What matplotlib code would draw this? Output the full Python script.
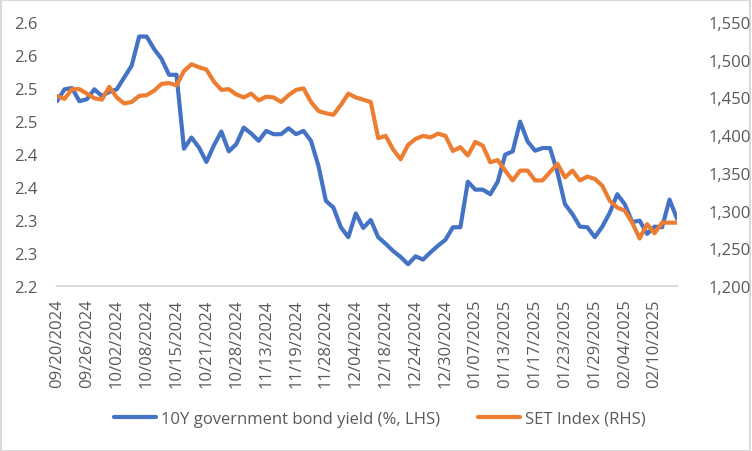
import matplotlib.pyplot as plt
from matplotlib.patches import Rectangle
from matplotlib.ticker import FixedLocator, FixedFormatter

# 10Y government bond yield (%), left axis
bond_yield = [
    2.480, 2.498, 2.500, 2.480, 2.483, 2.498, 2.488, 2.494, 2.498, 2.516,
    2.534, 2.578, 2.578, 2.559, 2.544, 2.520, 2.520, 2.408, 2.425, 2.410,
    2.388, 2.413, 2.434, 2.404, 2.415, 2.440, 2.431, 2.420, 2.435, 2.430,
    2.430, 2.439, 2.430, 2.435, 2.420, 2.382, 2.329, 2.319, 2.289, 2.274,
    2.310, 2.288, 2.300, 2.274, 2.264, 2.253, 2.244, 2.233, 2.245, 2.240,
    2.251, 2.261, 2.270, 2.289, 2.289, 2.358, 2.346, 2.346, 2.339, 2.358,
    2.399, 2.404, 2.449, 2.419, 2.405, 2.409, 2.409, 2.372, 2.324, 2.309,
    2.290, 2.289, 2.274, 2.290, 2.311, 2.339, 2.324, 2.297, 2.299, 2.279,
    2.290, 2.289, 2.331, 2.302,
]

# SET Index, right axis
set_index = [
    1452, 1448, 1461, 1461, 1455, 1449, 1447, 1464, 1450, 1442,
    1444, 1452, 1453, 1459, 1468, 1469, 1466, 1485, 1494, 1490,
    1487, 1471, 1460, 1461, 1454, 1450, 1455, 1446, 1451, 1450,
    1444, 1453, 1460, 1462, 1444, 1432, 1429, 1427, 1440, 1455,
    1450, 1447, 1444, 1396, 1399, 1381, 1368, 1387, 1395, 1399,
    1397, 1402, 1399, 1379, 1384, 1373, 1391, 1386, 1364, 1367,
    1353, 1340, 1353, 1353, 1340, 1340, 1351, 1362, 1344, 1353,
    1340, 1345, 1342, 1333, 1313, 1304, 1300, 1284, 1263, 1282,
    1270, 1284, 1284, 1284,
]

# every 4th trading day is labelled
date_labels = [
    "09/20/2024", "09/26/2024", "10/02/2024", "10/08/2024", "10/15/2024",
    "10/21/2024", "10/28/2024", "11/13/2024", "11/19/2024", "11/28/2024",
    "12/04/2024", "12/18/2024", "12/24/2024", "12/30/2024", "01/07/2025",
    "01/13/2025", "01/17/2025", "01/23/2025", "01/29/2025", "02/04/2025",
    "02/10/2025",
]

left_ticks = [2.2, 2.25, 2.3, 2.35, 2.4, 2.45, 2.5, 2.55, 2.6]
left_tick_labels = ["2.2", "2.3", "2.3", "2.4", "2.4", "2.5", "2.5", "2.6", "2.6"]
right_ticks = [1200, 1250, 1300, 1350, 1400, 1450, 1500, 1550]

plt.rcParams["font.family"] = ["Open Sans", "DejaVu Sans"]
text_color = "#595959"
grid_color = "#D9D9D9"

fig = plt.figure(figsize=(7.52, 4.52), dpi=100)
ax = fig.add_axes([57 / 752, 1 - 287 / 452, 620 / 752, 264 / 452])
ax2 = ax.twinx()

x = list(range(len(bond_yield)))
line1, = ax.plot(x, bond_yield, color="#4472C4", lw=3,
                 solid_joinstyle="round", solid_capstyle="round",
                 label="10Y government bond yield (%, LHS)")
line2, = ax2.plot(x, set_index, color="#ED7D31", lw=3,
                  solid_joinstyle="round", solid_capstyle="round",
                  label="SET Index (RHS)")
ax.set_zorder(ax2.get_zorder() - 1)
ax.patch.set_visible(False)
ax2.set_zorder(2)

ax.set_xlim(0, len(bond_yield) - 1)
ax.set_ylim(2.2, 2.6)
ax2.set_ylim(1200, 1550)

ax.yaxis.set_major_locator(FixedLocator(left_ticks))
ax.yaxis.set_major_formatter(FixedFormatter(left_tick_labels))
ax2.set_yticks(right_ticks)
ax2.set_yticklabels([f"{v:,}" for v in right_ticks])

ax.set_xticks(range(0, 4 * len(date_labels), 4))
ax.set_xticklabels(date_labels, rotation=90)

for a in (ax, ax2):
    for side in ("top", "left", "right", "bottom"):
        a.spines[side].set_visible(False)
    a.tick_params(length=0, colors=text_color, labelsize=12)
ax.tick_params(axis="y", pad=14)
ax2.tick_params(axis="y", pad=23)
ax.tick_params(axis="x", pad=9)
ax.spines["bottom"].set_visible(True)
ax.spines["bottom"].set_color(grid_color)
ax.spines["bottom"].set_linewidth(1.5)

fig.legend(handles=[line1, line2], loc="center", ncol=2,
           bbox_to_anchor=(0.505, 1 - 420 / 452), frameon=False,
           fontsize=12, labelcolor=text_color, handlelength=2.5,
           columnspacing=2.3, handletextpad=0.3)

fig.patches.append(Rectangle((0.001, 0.001), 0.997, 0.996,
                             transform=fig.transFigure, fill=False,
                             edgecolor=grid_color, lw=1.5))

fig.savefig("out.png", dpi=100)
